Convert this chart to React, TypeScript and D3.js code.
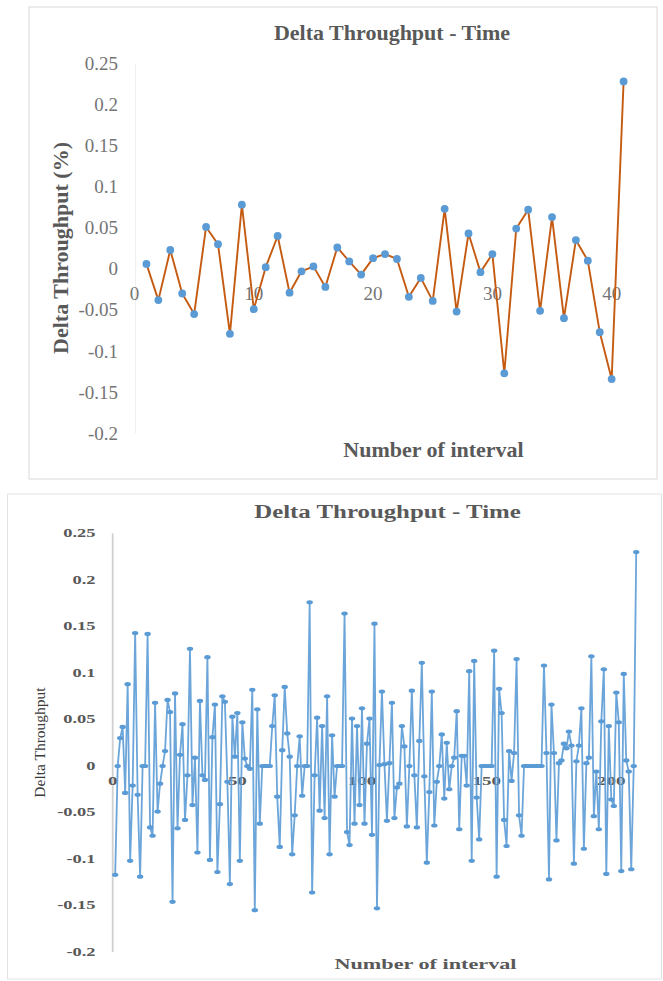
import React from "react";
import * as d3 from "d3";

// ---------- Top chart data ----------
const topTitle = "Delta Throughput - Time";
const topYTitle = "Delta Throughput (%)";
const topXTitle = "Number of interval";
const topYTicks = [0.25, 0.2, 0.15, 0.1, 0.05, 0, -0.05, -0.1, -0.15, -0.2];
const topXTicks = [0, 10, 20, 30, 40];
const topValues = [
  0.006, -0.038, 0.023, -0.03, -0.055, 0.051, 0.03, -0.079, 0.078, -0.049,
  0.002, 0.04, -0.029, -0.003, 0.003, -0.022, 0.026, 0.009, -0.007, 0.013,
  0.018, 0.012, -0.034, -0.011, -0.039, 0.073, -0.052, 0.043, -0.004, 0.018,
  -0.127, 0.049, 0.072, -0.051, 0.063, -0.06, 0.035, 0.01, -0.077, -0.134,
  0.228,
];

// ---------- Bottom chart data ----------
const botTitle = "Delta Throughput - Time";
const botYTitle = "Delta Throughput";
const botXTitle = "Number of interval";
const botYTicks = [0.25, 0.2, 0.15, 0.1, 0.05, 0, -0.05, -0.1, -0.15, -0.2];
const botYTickLabels = ["0.25", "0.2", "0.15", "0.1", "0.05", "0", "-0.05", "-0.1", "-0.15", "-0.2"];
const botXTicks = [0, 50, 100, 150, 200];
const botValues = [
  -0.117, 0, 0.03, 0.042, -0.029, 0.088, -0.102, -0.021, 0.143, -0.031,
  -0.119, 0, 0, 0.142, -0.066, -0.075, 0.068, -0.049, -0.019, 0,
  0.016, 0.071, 0.058, -0.146, 0.078, -0.067, 0.012, 0.045, -0.058, -0.01,
  0.126, -0.042, 0.009, -0.093, 0.07, -0.01, -0.015, 0.117, -0.101, 0.031,
  0.066, -0.114,
  -0.041, 0.075, 0.069, -0.017, -0.127, 0.053, 0.01, 0.057, -0.102, 0.047,
  0.008, 0, -0.003, 0.082, -0.155, 0.061, -0.062, 0, 0, 0,
  0, 0.043, 0.076, -0.033, -0.087, 0.017, 0.085, 0.035, 0.01, -0.095,
  -0.053, 0, 0.032, -0.032, 0, 0, 0.176, -0.136, -0.01, 0.052,
  -0.048,
  0.043, -0.056, 0.075, -0.095, 0.033, -0.033, 0, 0, 0, 0.164,
  -0.071, -0.085, 0.051, -0.062, 0.043, -0.042, 0.062, -0.062, 0.024, 0.051,
  -0.074, 0.153, -0.153, 0.001, 0.08, 0.002, -0.059, 0.003, 0.068, -0.056,
  -0.023, -0.019, 0.043, 0.021, -0.065, 0, 0.081, -0.01, -0.066, 0.027,
  0.111, -0.011,
  -0.104, -0.028, 0.08, -0.064, -0.017, 0, 0.034, -0.035, 0.025, -0.025,
  0, 0.009, 0.059, -0.068, 0.011, 0.011, -0.021, 0.102, -0.102, 0.113,
  -0.034, -0.079, 0, 0, 0, 0, 0, 0.124, -0.119, 0.083,
  0.057, -0.058, -0.086, 0.016, -0.016, 0.014, 0.115, -0.053, -0.075,
  0, 0, 0, 0, 0, 0, 0, 0,
  0.108, 0.014, -0.122, 0.066, 0.014, -0.08, 0.003, 0.006, 0.024, 0.019,
  0.037, 0.022, -0.105, 0.005, 0.022, 0.062, -0.089, 0.003, 0.009, 0.118,
  -0.054, -0.006, -0.068, 0.048, 0.104, -0.116, 0.043, -0.036, -0.043, 0.079,
  0.047, -0.113, 0.099, 0.006, -0.006, -0.111, 0, 0.23,
];

const SERIF = "'Liberation Serif', 'Times New Roman', serif";
const GREY = "#595959";
const LIGHT = "#747474";

function StretchText({ x, y, sx, anchor, children, size, weight, fill }: any) {
  return (
    <g transform={`translate(${x},${y}) scale(${sx},1)`}>
      <text
        textAnchor={anchor}
        fontFamily={SERIF}
        fontSize={size}
        fontWeight={weight}
        fill={fill}
      >
        {children}
      </text>
    </g>
  );
}

export default function App() {
  // Top chart scales
  const tx = d3.scaleLinear().domain([0, 41]).range([134.5, 623.6]);
  const ty = d3.scaleLinear().domain([-0.2, 0.25]).range([433.3, 63.3]);
  const topLine = d3
    .line<number>()
    .x((_, i) => tx(i + 1))
    .y((d) => ty(d));

  // Bottom chart scales
  const bx = d3.scaleLinear().domain([0, 210]).range([112.7, 112.7 + 210 * 2.493]);
  const by = d3.scaleLinear().domain([-0.2, 0.25]).range([952, 533.5]);
  const botLine = d3
    .line<number>()
    .x((_, i) => bx(i + 1))
    .y((d) => by(d));

  return (
    <svg
      width={663}
      height={981}
      style={{ position: "absolute", left: 0, top: 0, background: "#fff" }}
    >
      {/* ---------- TOP CHART ---------- */}
      <rect x={29} y={7} width={628} height={472} fill="#fff" stroke="#d9d9d9" strokeWidth={1} />
      <text x={392} y={39.5} textAnchor="middle" fontFamily={SERIF} fontSize={22} fontWeight="bold" fill={GREY}>
        {topTitle}
      </text>
      {/* faint vertical axis */}
      <line x1={135.5} x2={135.5} y1={ty(0.25)} y2={ty(-0.2)} stroke="#f0f0f0" strokeWidth={1} />
      {topYTicks.map((t) => (
        <text key={"ty" + t} x={118} y={ty(t) + 6.5} textAnchor="end" fontFamily={SERIF} fontSize={19} fill={LIGHT}>
          {String(t)}
        </text>
      ))}
      {topXTicks.map((t) => (
        <text key={"tx" + t} x={tx(t)} y={299.5} textAnchor="middle" fontFamily={SERIF} fontSize={19} fill={LIGHT}>
          {String(t)}
        </text>
      ))}
      <text
        transform={`translate(67.5,248) rotate(-90)`}
        textAnchor="middle"
        fontFamily={SERIF}
        fontSize={22}
        fontWeight="bold"
        fill={GREY}
      >
        {topYTitle}
      </text>
      <text x={433.5} y={456.5} textAnchor="middle" fontFamily={SERIF} fontSize={22} fontWeight="bold" fill={GREY}>
        {topXTitle}
      </text>
      <path d={topLine(topValues) || ""} fill="none" stroke="#C55A11" strokeWidth={1.9} strokeLinejoin="round" />
      {topValues.map((v, i) => (
        <circle key={"tp" + i} cx={tx(i + 1)} cy={ty(v)} r={3.9} fill="#5B9BD5" />
      ))}

      {/* ---------- BOTTOM CHART ---------- */}
      <rect x={7.5} y={494} width={654} height={485} fill="#fff" stroke="#e3e3e3" strokeWidth={1} />
      <StretchText x={387.5} y={517.5} sx={1.38} anchor="middle" size={18} weight="bold" fill={GREY}>
        {botTitle}
      </StretchText>
      <line x1={112.7} x2={112.7} y1={by(0.25)} y2={by(-0.2)} stroke="#d0d0d0" strokeWidth={1.8} />
      {botYTicks.map((t, i) => (
        <StretchText key={"by" + t} x={95.5} y={by(t) + 3.8} sx={1.6} anchor="end" size={11.5} weight="bold" fill={GREY}>
          {botYTickLabels[i]}
        </StretchText>
      ))}
      {botXTicks.map((t) => (
        <StretchText key={"bx" + t} x={bx(t)} y={785} sx={1.65} anchor="middle" size={11.5} weight="bold" fill={GREY}>
          {String(t)}
        </StretchText>
      ))}
      <text
        transform={`translate(44.5,742.5) rotate(-90)`}
        textAnchor="middle"
        fontFamily={SERIF}
        fontSize={15.5}
        fill="#3a3a3a"
      >
        {botYTitle}
      </text>
      <StretchText x={425.5} y={968.5} sx={1.48} anchor="middle" size={15} weight="bold" fill={GREY}>
        {botXTitle}
      </StretchText>
      <path
        d={botLine(botValues) || ""}
        fill="none"
        stroke="#5B9BD5"
        strokeWidth={1.8}
        strokeOpacity={0.9}
        strokeLinejoin="round"
      />
      {botValues.map((v, i) => (
        <ellipse key={"bp" + i} cx={bx(i + 1)} cy={by(v)} rx={3.2} ry={2.1} fill="#5B9BD5" />
      ))}
    </svg>
  );
}
